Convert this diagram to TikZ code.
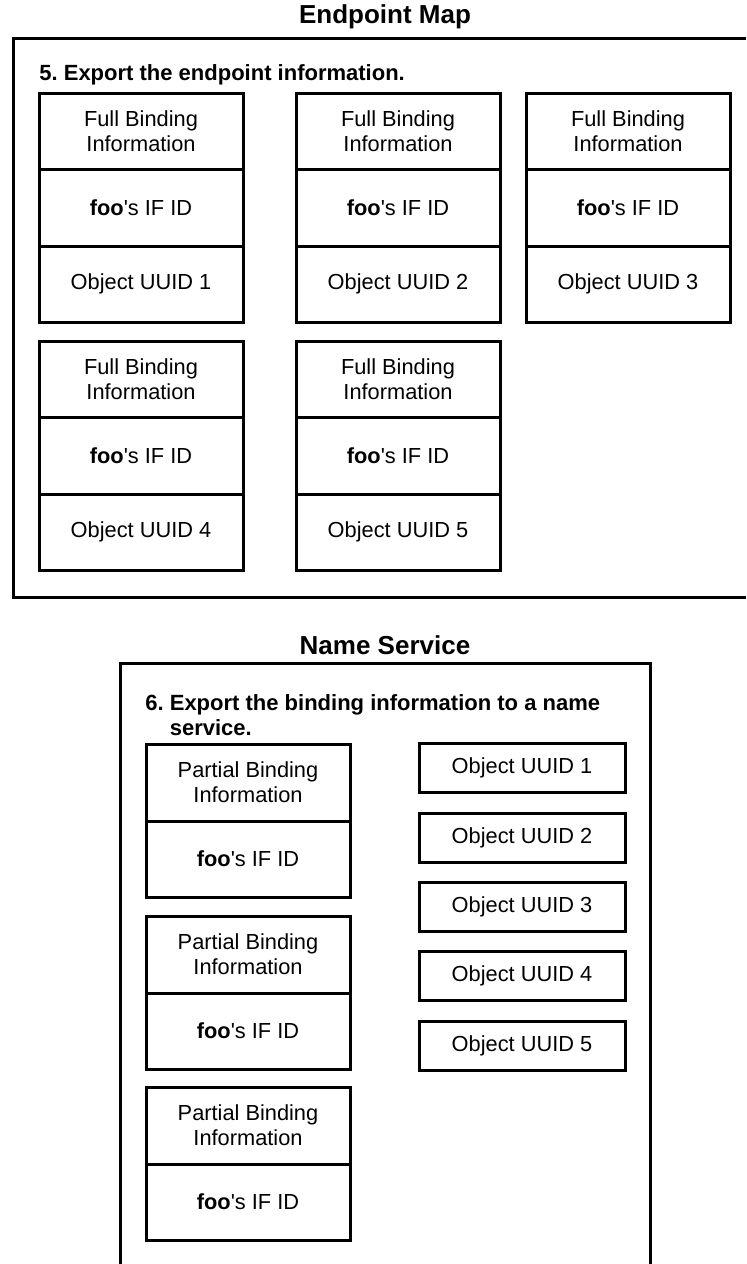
\documentclass[tikz,border=0pt]{standalone}
\usepackage{fontspec}
\setmainfont{Liberation Sans}
\newcommand{\boxfont}{\fontsize{10.9}{12.5}\selectfont}
\newcommand{\headfont}{\fontsize{11}{12.5}\selectfont\bfseries\frenchspacing}
\newcommand{\titlefont}{\fontsize{13}{15}\selectfont\bfseries}
\newcommand{\foo}{\textbf{foo}\textquotesingle s IF ID}

\tikzset{
  frame/.style={line width=1.5pt},
  cell/.style={draw, line width=1.5pt, minimum width=102pt, minimum height=38.25pt,
    inner sep=0pt, align=center, font=\boxfont},
  pcell/.style={cell, minimum height=38.5pt},
  qcell/.style={cell, minimum height=38pt},
  uuid/.style={draw, line width=1.5pt, minimum width=103pt, minimum height=24.5pt,
    inner sep=0pt, font=\boxfont},
  title/.style={font=\titlefont, inner sep=0pt},
  stepnote/.style={font=\headfont, inner sep=0pt, anchor=west, align=left}
}

\begin{document}
\begin{tikzpicture}[x=0.5pt, y=-0.5pt]
\useasboundingbox (0,0) rectangle (746,1264);

% endpoint map
\node[title] (epmap) at (385,17) {Endpoint Map};
\draw[frame] (746,38) -- (13,38) -- (13,597) -- (746,597);
\node[stepnote] (stepfive) at (39,75) {5. Export the endpoint information.};

\node[cell] (bind1) at (141,131.25) {Full Binding\\Information};
\node[cell] (ifid1) at (141,207.75) {\foo};
\node[cell] (obj1) at (141,284.25) {Object UUID 1};

\node[cell] (bind2) at (398,131.25) {Full Binding\\Information};
\node[cell] (ifid2) at (398,207.75) {\foo};
\node[cell] (obj2) at (398,284.25) {Object UUID 2};

\node[cell] (bind3) at (628,131.25) {Full Binding\\Information};
\node[cell] (ifid3) at (628,207.75) {\foo};
\node[cell] (obj3) at (628,284.25) {Object UUID 3};

\node[cell] (bind4) at (141,379.25) {Full Binding\\Information};
\node[cell] (ifid4) at (141,455.75) {\foo};
\node[cell] (obj4) at (141,532.25) {Object UUID 4};

\node[cell] (bind5) at (398,379.25) {Full Binding\\Information};
\node[cell] (ifid5) at (398,455.75) {\foo};
\node[cell] (obj5) at (398,532.25) {Object UUID 5};

% name service
\node[title] (nsvc) at (385,645) {Name Service};
\draw[frame] (120,1264) -- (120,663) -- (650,663) -- (650,1264);
\node[stepnote] (stepsix) at (145,715.5)
  {6. Export the binding information to a name\\\phantom{6.\ }service.};

\node[pcell] (pbind1) at (248,782.5) {Partial Binding\\Information};
\node[qcell] (pifid1) at (248,859) {\foo};
\node[pcell] (pbind2) at (248,954.5) {Partial Binding\\Information};
\node[qcell] (pifid2) at (248,1031) {\foo};
\node[pcell] (pbind3) at (248,1125.5) {Partial Binding\\Information};
\node[qcell] (pifid3) at (248,1202) {\foo};

\node[uuid] (nobj1) at (522,767.5) {Object UUID 1};
\node[uuid] (nobj2) at (522,837.5) {Object UUID 2};
\node[uuid] (nobj3) at (522,906.5) {Object UUID 3};
\node[uuid] (nobj4) at (522,975.5) {Object UUID 4};
\node[uuid] (nobj5) at (522,1045.5) {Object UUID 5};
\end{tikzpicture}
\end{document}
